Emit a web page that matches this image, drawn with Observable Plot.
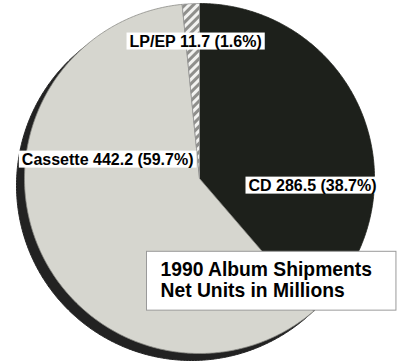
<!DOCTYPE html>
<html>
<head>
<meta charset="utf-8">
<script src="https://cdn.jsdelivr.net/npm/d3@7"></script>
<script src="https://cdn.jsdelivr.net/npm/@observablehq/plot@0.6"></script>
<style>
  html, body { margin: 0; padding: 0; background: #fff; }
</style>
</head>
<body>
<script>
// ---- data ----
const categories = ["CD", "Cassette", "LP/EP"];
const units = [286.5, 442.2, 11.7];
const percents = [38.7, 59.7, 1.6];
const titleLines = ["1990 Album Shipments", "Net Units in Millions"];

// ---- styles ----
const fills = {"CD": "#1d201b", "Cassette": "#d6d6cf", "LP/EP": "url(#hatch)"};
const font = "'Liberation Sans', Arial, Helvetica, sans-serif";
const W = 398, H = 362, cx = 199, cy = 178, R = 175;

// ---- geometry from data (clockwise from 12 o'clock) ----
const arcs = d3.pie().sort(null).value(d => d)(units);
const slicePts = arcs.flatMap((a, i) => {
  const cat = categories[i];
  const n = Math.max(2, Math.ceil((a.endAngle - a.startAngle) / (Math.PI / 360)));
  const pts = [{cat, x: 0, y: 0}];
  for (let k = 0; k <= n; k++) {
    const t = a.startAngle + (a.endAngle - a.startAngle) * k / n;
    pts.push({cat, x: Math.sin(t), y: Math.cos(t)});
  }
  pts.push({cat, x: 0, y: 0});
  return pts;
});
const circlePts = d3.range(0, 721).map(k => ({x: Math.sin(k * Math.PI / 360), y: Math.cos(k * Math.PI / 360)}));

const labels = categories.map((c, i) => ({
  cat: c,
  text: `${c} ${units[i]} (${percents[i]}%)`,
  mid: (arcs[i].startAngle + arcs[i].endAngle) / 2
}));
const lpLabel = labels.filter(d => d.cat === "LP/EP");
const casLabel = labels.filter(d => d.cat === "Cassette");
const cdLabel = labels.filter(d => d.cat === "CD");

const textStyle = {fontSize: 16, fontWeight: "bold", fontFamily: font, fill: "#000"};

const chart = Plot.plot({
  width: W, height: H,
  margin: 0,
  x: {domain: [-1, 1], range: [cx - R, cx + R], axis: null},
  y: {domain: [-1, 1], range: [cy + R, cy - R], axis: null},
  style: {background: "#fff", overflow: "visible"},
  marks: [
    // dark rim (pie thickness)
    Plot.line(circlePts, {x: "x", y: "y", fill: "#222", stroke: "#222", strokeWidth: 1, dx: -8, dy: 7}),
    // slices
    ...categories.map(c =>
      Plot.line(slicePts.filter(d => d.cat === c), {
        x: "x", y: "y", fill: fills[c],
        stroke: c === "Cassette" ? "#8a8a85" : fills[c] === "url(#hatch)" ? "#999" : fills[c],
        strokeWidth: 0.8
      })
    ),
    // slice labels
    Plot.text(lpLabel, {x: d => 0.79 * Math.sin(d.mid), y: d => 0.79 * Math.cos(d.mid), text: "text", textAnchor: "middle", dx: 3, dy: 1, ...textStyle}),
    Plot.text(casLabel, {x: () => 0, y: () => 0, text: "text", textAnchor: "end", dx: -6, dy: -19, ...textStyle}),
    Plot.text(cdLabel, {x: () => 0, y: () => 0, text: "text", textAnchor: "start", dx: 49, dy: 7, ...textStyle}),
    // title box text
    Plot.text([titleLines.join("\n")], {
      frameAnchor: "top-left", text: d => d, textAnchor: "start", lineAnchor: "top",
      dx: 160, dy: 261, lineHeight: 1.08,
      fontSize: 19.3, fontWeight: "bold", fontFamily: font, fill: "#000"
    })
  ]
});

document.body.append(chart);

const svg = d3.select(chart);
// hatch pattern
const defs = svg.insert("defs", ":first-child");
const pat = defs.append("pattern").attr("id", "hatch").attr("patternUnits", "userSpaceOnUse")
  .attr("width", 6).attr("height", 6).attr("patternTransform", "rotate(45)");
pat.append("rect").attr("width", 6).attr("height", 6).attr("fill", "#f2f2f0");
pat.append("rect").attr("width", 3).attr("height", 6).attr("fill", "#8f8f8c");

// white boxes behind texts
const groups = chart.querySelectorAll('g[aria-label="text"]');
groups.forEach((g, gi) => {
  const isTitle = gi === groups.length - 1;
  g.querySelectorAll("text").forEach(t => {
    const b = t.getBBox();
    const pad = isTitle ? {l: 14, r: 24, t: 8, b: 9} : {l: 3, r: 3, t: 0, b: 0};
    const r = document.createElementNS("http://www.w3.org/2000/svg", "rect");
    r.setAttribute("x", b.x - pad.l);
    r.setAttribute("y", b.y - pad.t);
    r.setAttribute("width", b.width + pad.l + pad.r);
    r.setAttribute("height", b.height + pad.t + pad.b);
    r.setAttribute("fill", "#fff");
    if (isTitle) { r.setAttribute("stroke", "#9a9a9a"); r.setAttribute("stroke-width", "1"); }
    else r.setAttribute("stroke", "none");
    const tr = t.getAttribute("transform");
    if (tr) r.setAttribute("transform", tr);
    t.parentNode.insertBefore(r, t);
  });
});
</script>
</body>
</html>
